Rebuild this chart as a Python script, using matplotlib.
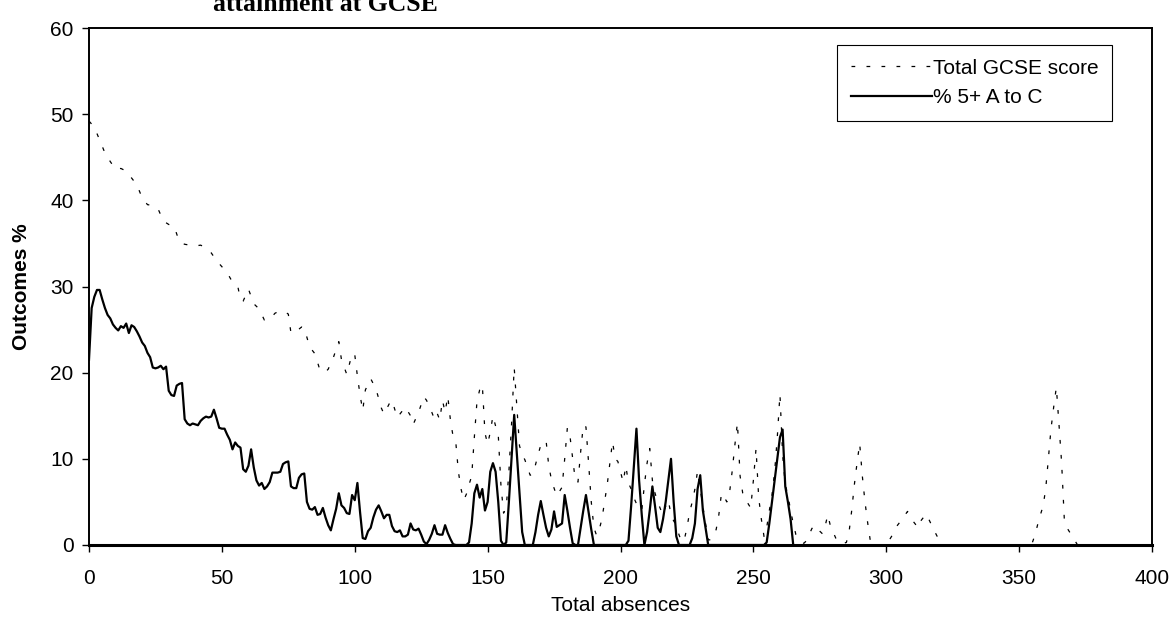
import matplotlib
matplotlib.use('Agg')
import matplotlib.pyplot as plt

# Attainment at GCSE against total absences
absences_score = [0, 2, 4, 6, 8, 10, 12, 14, 16, 18, 20, 22, 24, 26, 28, 30, 32, 34, 36, 38,
                  40, 42, 44, 46, 48, 50, 52, 54, 56, 57, 58, 60, 62, 64, 66, 68, 70, 72, 74, 75,
                  76, 78, 80, 81, 83, 85, 87, 89, 90, 92, 94, 95, 97, 99, 100, 101, 102, 103, 104, 106,
                  108, 110, 111, 113, 114, 116, 118, 119, 121, 122, 124, 126, 127, 129, 130, 131, 132, 133, 134, 135,
                  136, 137, 138, 139, 140, 141, 142, 143, 144, 145, 146, 147, 148, 149, 150, 151, 152, 153, 154, 155,
                  156, 157, 158, 159, 160, 161, 162, 163, 164, 165, 166, 167, 168, 169, 170, 171, 172, 173, 174, 175,
                  176, 177, 178, 179, 180, 181, 182, 183, 184, 185, 186, 187, 188, 189, 190, 191, 192, 193, 194, 195,
                  196, 197, 198, 199, 200, 201, 202, 203, 204, 205, 206, 207, 208, 209, 210, 211, 212, 213, 214, 215,
                  216, 217, 218, 219, 220, 221, 222, 223, 224, 225, 226, 227, 228, 229, 230, 231, 232, 233, 234, 235,
                  236, 237, 238, 239, 240, 241, 242, 243, 244, 245, 246, 247, 248, 249, 250, 251, 252, 253, 254, 255,
                  256, 257, 258, 259, 260, 261, 262, 263, 264, 265, 266, 267, 268, 269, 270, 271, 272, 273, 274, 275,
                  276, 277, 278, 279, 280, 281, 282, 283, 284, 285, 286, 287, 288, 289, 290, 291, 292, 293, 294, 295,
                  300, 301, 302, 304, 306, 308, 310, 312, 313, 315, 316, 318, 320, 321, 354, 355, 356, 357, 358, 359,
                  360, 361, 362, 363, 364, 365, 366, 367, 368, 369, 370, 371, 372]
gcse_score = [49.2, 48.5, 47.0, 45.5, 44.5, 43.6, 43.7, 43.4, 42.6, 41.8, 40.3, 39.5, 39.4, 39.0, 37.6, 37.2, 37.0, 35.2, 34.9, 34.8,
              34.7, 34.8, 34.5, 33.9, 33.0, 32.3, 31.6, 30.5, 30.0, 28.5, 28.3, 29.7, 28.0, 27.4, 26.1, 26.2, 26.9, 27.2, 27.0, 26.8,
              24.6, 24.8, 25.3, 25.2, 23.0, 22.2, 20.2, 20.1, 20.4, 21.8, 23.6, 21.5, 19.8, 22.2, 22.1, 19.6, 17.4, 15.6, 18.0, 19.3,
              18.1, 15.9, 15.2, 16.4, 16.8, 14.8, 15.6, 16.0, 15.0, 14.0, 15.4, 17.2, 16.8, 15.4, 14.6, 15.3, 14.5, 16.8, 15.4, 17.3,
              14.5, 12.6, 12.0, 8.5, 6.5, 5.2, 5.9, 7.0, 8.0, 12.5, 16.7, 18.0, 18.6, 13.0, 11.7, 13.1, 15.0, 13.8, 12.8, 7.0,
              3.7, 4.3, 8.5, 14.0, 20.6, 16.0, 11.5, 10.5, 9.9, 9.0, 8.1, 8.2, 9.3, 10.5, 11.6, 11.9, 12.1, 9.2, 7.6, 6.6,
              5.7, 6.2, 6.7, 10.0, 13.6, 12.6, 10.0, 7.5, 7.3, 10.8, 13.9, 13.7, 9.5, 5.0, 2.0, 1.1, 1.8, 3.0, 5.0, 7.0,
              9.5, 12.0, 10.0, 9.7, 8.5, 7.3, 9.2, 7.2, 6.5, 5.5, 4.8, 4.2, 4.0, 7.0, 9.5, 11.2, 7.5, 6.0, 5.0, 4.2,
              3.5, 4.5, 5.2, 3.5, 2.8, 2.3, 1.2, 0.4, 0.6, 2.0, 3.8, 5.0, 6.5, 8.6, 6.5, 4.5, 2.5, 0.6, 0.6, 1.2,
              1.8, 3.5, 6.0, 5.6, 5.0, 6.0, 8.5, 11.5, 14.2, 8.0, 6.0, 5.2, 4.8, 4.3, 7.5, 11.2, 5.5, 3.0, 1.0, 2.0,
              4.0, 5.8, 8.5, 12.5, 17.5, 10.5, 7.0, 5.8, 4.0, 2.5, 1.2, 0.7, 0.3, 0.2, 0.5, 1.2, 1.9, 2.3, 2.0, 1.6,
              1.3, 2.2, 3.5, 2.2, 1.5, 0.8, 0.3, 0.2, 0.2, 0.3, 1.5, 4.0, 7.0, 9.5, 11.8, 8.0, 5.0, 2.6, 0.5, 0.0,
              0.0, 0.5, 1.0, 2.2, 3.0, 3.9, 2.8, 2.0, 2.8, 3.6, 3.0, 1.7, 0.5, 0.0, 0.0, 0.3, 1.2, 2.4, 3.5, 4.5,
              6.5, 10.0, 13.5, 16.0, 18.3, 14.0, 9.5, 3.0, 2.0, 1.5, 1.0, 0.5, 0.0]

absences_pct = list(range(0, 191)) + [202] + list(range(203, 234)) + [254] + list(range(255, 266))
pct_5ac = [21.5, 27.5, 28.8, 29.6, 29.6, 28.5, 27.5, 26.7, 26.3, 25.6, 25.2, 24.9, 25.4, 25.2, 25.7, 24.6, 25.5, 25.3, 24.8, 24.2,
           23.5, 23.1, 22.3, 21.8, 20.6, 20.5, 20.6, 20.8, 20.4, 20.7, 17.9, 17.4, 17.3, 18.5, 18.7, 18.8, 14.6, 14.1, 13.9, 14.1,
           14.0, 13.9, 14.4, 14.7, 14.9, 14.8, 14.9, 15.7, 14.7, 13.6, 13.5, 13.5, 12.8, 12.2, 11.1, 11.9, 11.5, 11.3, 8.8, 8.5,
           9.2, 11.1, 9.0, 7.5, 6.9, 7.2, 6.5, 6.8, 7.3, 8.4, 8.4, 8.4, 8.5, 9.4, 9.6, 9.7, 6.8, 6.6, 6.6, 7.8,
           8.2, 8.3, 5.0, 4.2, 4.1, 4.4, 3.5, 3.6, 4.3, 3.2, 2.3, 1.7, 3.0, 4.2, 6.0, 4.6, 4.3, 3.7, 3.6, 5.8,
           5.2, 7.2, 3.8, 0.8, 0.7, 1.6, 2.0, 3.2, 4.1, 4.6, 3.9, 3.1, 3.5, 3.5, 2.2, 1.6, 1.5, 1.7, 1.0, 1.0,
           1.2, 2.5, 1.8, 1.7, 1.9, 1.2, 0.4, 0.1, 0.6, 1.3, 2.3, 1.3, 1.2, 1.2, 2.3, 1.4, 0.7, 0.1, 0.0, 0.0,
           0.0, 0.0, 0.0, 0.3, 2.5, 6.0, 7.0, 5.5, 6.5, 4.0, 5.0, 8.5, 9.5, 8.5, 5.0, 0.5, 0.0, 0.3, 5.0, 10.0,
           15.1, 10.5, 6.0, 1.5, 0.0, 0.0, 0.0, 0.0, 1.5, 3.5, 5.1, 3.5, 2.0, 1.0, 1.8, 3.9, 2.1, 2.3, 2.5, 5.8,
           4.0, 2.0, 0.2, 0.0, 0.0, 2.0, 4.0, 5.8, 3.8, 1.8, 0.0,
           0.0,
           0.5, 4.5, 9.0, 13.5, 7.5, 3.5, 0.0, 1.5, 4.0, 6.8, 4.5, 2.0, 1.5, 3.0, 5.0, 7.5, 10.0, 5.0, 1.0, 0.0,
           0.0, 0.0, 0.0, 0.0, 0.8, 2.5, 6.5, 8.1, 4.0, 2.0, 0.0,
           0.0,
           0.3, 2.5, 5.0, 7.5, 10.0, 12.5, 13.4, 6.8, 5.0, 3.0, 0.0]

x_ticks = [0, 50, 100, 150, 200, 250, 300, 350, 400]
y_ticks = [0, 10, 20, 30, 40, 50, 60]

LEGENDS = ['Total GCSE score', '% 5+ A to C']

plt.rcParams['font.family'] = ['Liberation Sans', 'DejaVu Sans']

fig = plt.figure(figsize=(11.7, 6.26), dpi=100)
ax = fig.add_axes([89 / 1170, 1 - 545 / 626, (1152 - 89) / 1170, (545 - 28) / 626])

ax.plot(absences_score, gcse_score, color='black', linewidth=0.9,
        linestyle=(0, (3, 9)), label=LEGENDS[0])
ax.plot(absences_pct, pct_5ac, color='black', linewidth=1.6, label=LEGENDS[1])

ax.set_xlim(0, 400)
ax.set_ylim(0, 60)
ax.set_xticks(x_ticks)
ax.set_yticks(y_ticks)
ax.tick_params(direction='out', length=5, width=1, labelsize=15, pad=6)
ax.tick_params(axis='x', pad=12)
for side in ['left', 'top', 'right']:
    ax.spines[side].set_linewidth(1.4)
ax.spines['bottom'].set_linewidth(2.2)

ax.set_xlabel('Total absences', fontsize=15, labelpad=6)
ax.set_ylabel('Outcomes %', fontsize=15, fontweight='bold', labelpad=14)

leg = ax.legend(loc='upper right', bbox_to_anchor=(0.9624, 0.967), borderaxespad=0,
                fontsize=15, handlelength=3.9, handletextpad=0.05, labelspacing=0.5,
                borderpad=0.65, fancybox=False, framealpha=1)
leg.get_frame().set_edgecolor('black')
leg.get_frame().set_linewidth(0.8)

fig.text(213 / 1170, 1 - 11 / 626, 'attainment at GCSE', fontsize=18.5, fontweight='bold',
         family=['Liberation Serif', 'DejaVu Serif'], va='baseline', ha='left')

fig.savefig('out.png', dpi=100)
